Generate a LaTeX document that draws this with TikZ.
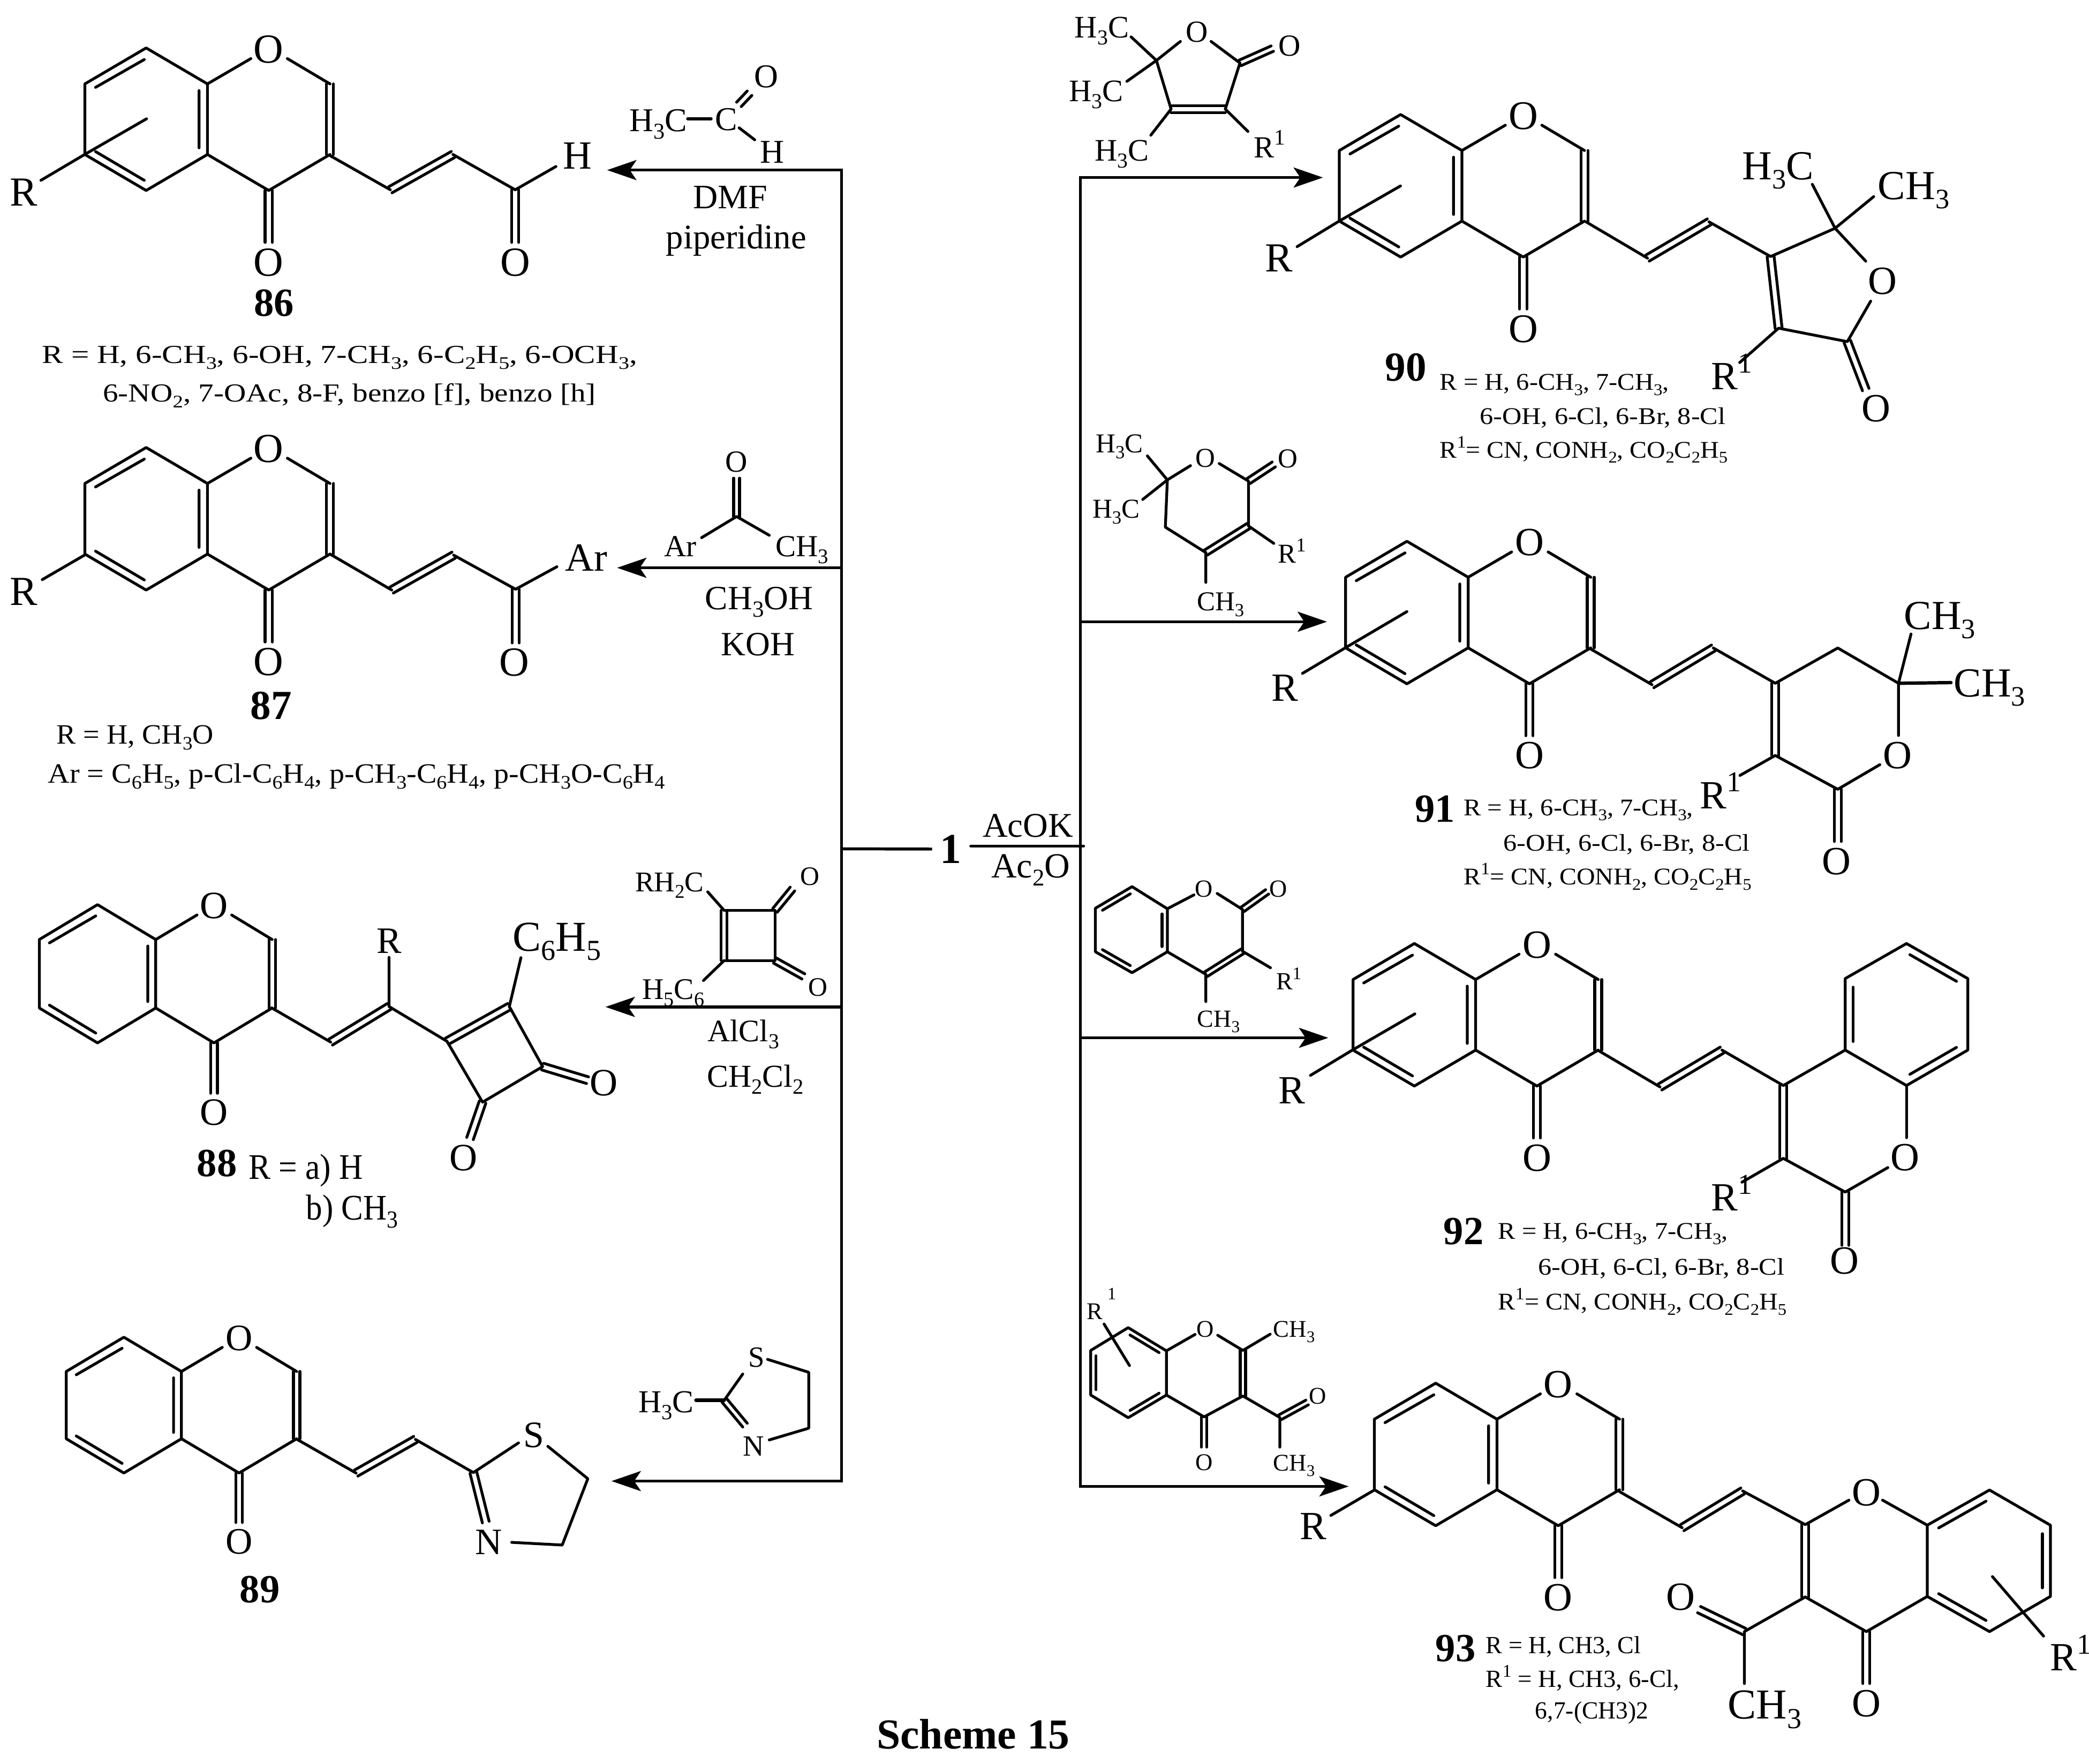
\documentclass[tikz,border=0pt]{standalone}
\usepackage{fontspec}
\usepackage{graphicx}
\setmainfont{Liberation Serif}
\usetikzlibrary{calc,arrows.meta}
\newcounter{tn}
\tikzset{
  bond/.style={line width=2.1pt,line cap=round,line join=round,black},
  rxnline/.style={line width=2.2pt,line join=miter,black},
  rxnarrow/.style={rxnline,-{Stealth[length=22pt,width=15pt,inset=5pt]}},
  lab/.style={inner sep=0pt,outer sep=0pt,anchor=center,black},
  labw/.style={inner sep=0pt,outer sep=0pt,anchor=west,black}
}
\newcommand\dn[1]{\smash{\raisebox{-.22em}{\scalebox{.68}{#1}}}}
\newcommand\up[1]{\smash{\raisebox{.42em}{\scalebox{.72}{#1}}}}
% centred text: position, size, text
\newcommand\Lab[3]{\stepcounter{tn}\node[lab,font=\fontsize{#2}{#2}\selectfont] (t\arabic{tn}) at (#1) {#3};}
% left-anchored text fitted to a width: position, width, size, text
\newcommand\FitL[4]{\stepcounter{tn}\node[labw,font=\fontsize{#3}{#3}\selectfont] (t\arabic{tn}) at (#1) {\resizebox{#2pt}{\height}{#4}};}
% R with superscript 1; x of the R centre, y, size
\newcommand\RS[3]{\stepcounter{tn}\node[labw,font=\fontsize{#3}{#3}\selectfont] (t\arabic{tn}) at ($(#1,#2)+(-.333*#3,0)$) {R\up{1}};}
% symmetric double bond
\newcommand\dbl[3][2.6pt]{\draw[bond] ($(#2)!#1!90:(#3)$) -- ($(#3)!#1!-90:(#2)$); \draw[bond] ($(#2)!#1!-90:(#3)$) -- ($(#3)!#1!90:(#2)$);}
% inner line of a ring double bond, on the left of the direction A to B
\newcommand\inn[3][6pt]{\draw[bond] ($(#2)!.12!(#3)!#1!90:(#3)$) -- ($(#3)!.12!(#2)!#1!-90:(#2)$);}
% chromone core: C8a x, y, x scale, y scale, label size
\newcommand\chromone[5]{%
\begin{scope}[shift={(#1,#2)},xscale=#3,yscale=#4]
\draw[bond] (0,0)--(0,53)--(-46,80)--(-92,53)--(-92,0)--(-46,-27)--cycle;
\draw[bond] (0,53)--(46,80)--(92,53);
\draw[bond] (89.4,0)--(89.4,53) (94.6,0)--(94.6,53);
\draw[bond] (0,0)--(32.6,-19) (60,-19)--(92,0);
\draw[bond] (-6.3,5)--(-6.3,48) (-84,2.6)--(-47.4,-18.3) (-84,50.8)--(-47.4,72.4);
\draw[bond] (43.3,80)--(43.3,119) (48.7,80)--(48.7,119);
\Lab{46,-26}{#5}{O}
\Lab{46,134}{#5}{O}
\end{scope}}
\begin{document}
\begin{tikzpicture}[x=1pt,y=-1pt]
\useasboundingbox (0,0) rectangle (1568,1324.4);
% ===== central scheme connectors
\node[lab,font=\fontsize{32}{32}\selectfont] (one) at (713.6,637.5) {\bfseries 1};
\coordinate (jLt) at (631.7,127.7);
\coordinate (jLm) at (631.7,637.3);
\coordinate (jLb) at (631.7,1112);
\coordinate (j87) at (631.7,426.3);
\coordinate (j88) at (631.7,756);
\coordinate (tip86) at (455.7,127.7);
\coordinate (tip87) at (463.2,426.3);
\coordinate (tip88) at (454.5,756);
\coordinate (tip89) at (459,1112);
\coordinate (jRt) at (811,133.3);
\coordinate (jRm) at (811,635.3);
\coordinate (jRb) at (811,1116);
\coordinate (j91) at (811,466.8);
\coordinate (j92) at (811,779.2);
\coordinate (acs) at (728.7,635.3);
\coordinate (ace) at (813.3,635.3);
\coordinate (tip90) at (993,133.3);
\coordinate (tip91) at (996,466.8);
\coordinate (tip92) at (997,779.2);
\coordinate (tip93) at (1012.3,1116);
\draw[rxnarrow] (jLm)--(jLt)--(tip86);
\draw[rxnarrow] (jLm)--(jLb)--(tip89);
\draw[rxnarrow] (j87)--(tip87);
\draw[rxnarrow] (j88)--(tip88);
\draw[rxnline,shorten >=6pt] (jLm)--(one.west);
\draw[rxnline,line width=2.3pt,line cap=round] (acs)--(ace);
\draw[rxnarrow] (jRm)--(jRt)--(tip90);
\draw[rxnarrow] (jRm)--(jRb)--(tip93);
\draw[rxnarrow] (j91)--(tip91);
\draw[rxnarrow] (j92)--(tip92);
\Lab{771.6,620}{26}{AcOK}
\Lab{773.6,650.5}{26.5}{Ac\dn{2}O}
\Lab{730.5,1302}{32}{\bfseries Scheme 15}
% ===== 86
\chromone{155.7}{63}{1}{1}{31}
\draw[bond] (63,116.3)--(30.7,135.4) (63,116.3)--(110,89.2);
\Lab{17.7,144.2}{31}{R}
\draw[bond] (248,117)--(293,142.5);
\dbl{293,142.5}{340,116}
\draw[bond] (340,116)--(386.7,142.5)--(417.3,125);
\dbl{386.7,142.5}{386.7,182}
\Lab{433.3,116.9}{30}{H}
\Lab{386.7,197}{31}{O}
\Lab{205.7,227.7}{30}{\bfseries 86}
\FitL{31.7,267.7}{446.6}{19.5}{R = H, 6-CH\dn{3}, 6-OH, 7-CH\dn{3}, 6-C\dn{2}H\dn{5}, 6-OCH\dn{3},}
\FitL{77.3,296.4}{370}{19.5}{6-NO\dn{2}, 7-OAc, 8-F, benzo [f], benzo [h]}
% reagent 86
\Lab{494.2,90.6}{25}{H\dn{3}C}
\Lab{545,89.7}{25}{C}
\Lab{575,57.4}{25}{O}
\Lab{579.7,114.3}{25}{H}
\draw[bond,line width=2.6pt] (516.3,89.2)--(533.6,89.2);
\dbl[2.4pt]{554.6,78.4}{562.6,70}
\draw[bond] (554.8,96)--(566.5,105);
\Lab{548,148}{25.7}{DMF}
\Lab{552.6,180.3}{26}{piperidine}
% ===== 87
\chromone{155.7}{363}{1}{1}{31}
\draw[bond] (63.4,416.8)--(31.7,435.2);
\Lab{17.8,444.2}{31}{R}
\draw[bond] (247.7,416)--(294,443);
\dbl{294,443}{340.5,416.8}
\draw[bond] (340.5,416.8)--(387,442.4)--(418,425.5);
\dbl{387,442.4}{387,482.7}
\Lab{440,418.6}{30}{Ar}
\Lab{386,497.5}{31}{O}
\Lab{203.5,530}{31}{\bfseries 87}
\FitL{42.3,553}{118}{21}{R = H, CH\dn{3}O}
\FitL{36,582.6}{463}{21}{Ar = C\dn{6}H\dn{5}, p-Cl-C\dn{6}H\dn{4}, p-CH\dn{3}-C\dn{6}H\dn{4}, p-CH\dn{3}O-C\dn{6}H\dn{4}}
% reagent 87
\Lab{552.9,346.8}{23}{O}
\dbl[2.2pt]{552.9,387.8}{552.9,359}
\draw[bond] (526.6,403.7)--(552.9,387.8)--(577.4,401.9);
\Lab{510.6,410.4}{23}{Ar}
\Lab{602,410.4}{23}{CH\dn{3}}
\Lab{569.8,449.3}{25.5}{CH\dn{3}OH}
\Lab{569,484}{25.5}{KOH}
% ===== 88
\chromone{116.9}{705.4}{.95}{.97}{29}
\draw[bond] (203.9,756.7)--(248.2,782.4);
\dbl{248.2,782.4}{292,755.7}
\draw[bond] (292,755.7)--(292,718.8) (292,755.7)--(335.5,781.8);
\dbl{335.5,781.8}{382.3,755.7}
\draw[bond] (382.3,755.7)--(407.3,800.8)--(362.2,827.5)--(335.5,781.8);
\draw[bond] (382.3,755.7)--(391,719);
\dbl{407.3,800.8}{441,811}
\dbl{362.2,827.5}{352.8,854.8}
\Lab{292,706.5}{28}{R}
\Lab{418,703.5}{32}{C\dn{6}H\dn{5}}
\Lab{453.3,813.1}{29}{O}
\Lab{347.9,869.5}{29}{O}
\Lab{162.8,873.6}{30}{\bfseries 88}
\FitL{186.6,878.8}{86}{27}{R = a) H}
\FitL{229.7,909.5}{69}{27}{b) CH\dn{3}}
% reagent 88
\Lab{502.5,662.4}{21.5}{RH\dn{2}C}
\draw[bond] (531.2,669.6)--(543.5,683.5);
\draw[bond] (543.5,683.5)--(581.7,683.5)--(581.7,721.2)--(543.5,721.2);
\dbl[2.2pt]{543.5,683.5}{543.5,721.2}
\draw[bond] (543.5,721.2)--(528,736.2);
\dbl[2.2pt]{581.7,683.5}{594.8,667.5}
\dbl[2.2pt]{581.7,721.2}{603,733.1}
\Lab{608,657.9}{20}{O}
\Lab{614,741.3}{20}{O}
\Lab{505.4,743}{22.5}{H\dn{5}C\dn{6}}
\Lab{558,774}{23.5}{AlCl\dn{3}}
\Lab{567,808}{24}{CH\dn{2}Cl\dn{2}}
% ===== 89
\chromone{136.2}{1029.7}{.94}{.953}{28}
\draw[bond] (223,1080.7)--(267.3,1106);
\dbl{267.3,1106}{311.8,1080.7}
\draw[bond] (311.8,1080.7)--(355.3,1105.6)--(389.2,1083.3);
\draw[bond] (411.2,1085.9)--(441.2,1110.2)--(422,1160)--(384.1,1158);
\dbl{355.3,1105.6}{364.6,1142.8}
\Lab{400.6,1077.4}{28}{S}
\Lab{367,1158}{28}{N}
\Lab{195,1193.5}{30}{\bfseries 89}
% reagent 89
\Lab{567.7,1019.2}{22}{S}
\Lab{565.6,1085.9}{22}{N}
\Lab{500,1052.6}{24}{H\dn{3}C}
\draw[bond] (543.6,1051.3)--(557.5,1031.6);
\draw[bond] (576.1,1020.6)--(607,1030.3)--(607,1072.3)--(577.4,1081.1);
\dbl[2.2pt]{543.6,1051.3}{559.2,1070}
\draw[bond,line width=2.6pt] (522.4,1051.3)--(543.6,1051.3);
% ===== 90
\chromone{1097.3}{113}{1}{1}{30.5}
\draw[bond] (1005,166.1)--(973.6,185.2) (1005,166.1)--(1051.2,139.6);
\Lab{959.8,193.8}{31}{R}
\draw[bond] (1190.5,166.6)--(1236.6,193.8);
\dbl{1236.6,193.8}{1282.8,166.6}
\draw[bond] (1282.8,166.6)--(1329,192.6)--(1377.4,171.4)--(1400.4,196.1);
\draw[bond] (1360.3,138.4)--(1377.4,171.4)--(1406.4,147.6);
\dbl{1329,192.6}{1335,246.4}
\draw[bond] (1404.1,226.1)--(1386.6,256.5)--(1335,246.4)--(1305.8,272.2);
\dbl{1386.6,256.5}{1400.4,292.5}
\Lab{1334.5,124.6}{31}{H\dn{3}C}
\Lab{1436.4,139.6}{31}{CH\dn{3}}
\Lab{1412.9,211}{30}{O}
\Lab{1408.3,306.8}{30}{O}
\RS{1294.3}{282.6}{30}
\Lab{1055.3,275.7}{31}{\bfseries 90}
\FitL{1080.7,288.4}{172}{18}{R = H, 6-CH\dn{3}, 7-CH\dn{3},}
\FitL{1110.7,313.8}{184.5}{18}{6-OH, 6-Cl, 6-Br, 8-Cl}
\FitL{1080.7,339.1}{216}{18}{R\up{1}= CN, CONH\dn{2}, CO\dn{2}C\dn{2}H\dn{5}}
% reagent 90
\draw[bond] (849,27.7)--(868,45.4)--(845.8,61.1);
\draw[bond] (868,45.4)--(886,31.1) (909,31.1)--(930.7,47.3);
\draw[bond] (868,45.4)--(879,81.9) (930.7,47.3)--(919.7,81.9);
\dbl{879,81.9}{919.7,81.9}
\draw[bond] (879,81.9)--(863.8,101.5) (919.7,81.9)--(936.7,98.7);
\dbl[2.2pt]{930.7,47.3}{955,36.5}
\Lab{827,20.8}{23.5}{H\dn{3}C}
\Lab{822.8,68.5}{23.5}{H\dn{3}C}
\Lab{842,113}{23.5}{H\dn{3}C}
\Lab{898.4,24.2}{23}{O}
\Lab{968.1,34.6}{23}{O}
\RS{948.7}{110.7}{23}
% ===== 91
\chromone{1102}{433.4}{1}{1}{30}
\draw[bond] (1009.6,486.5)--(977.6,505.6) (1009.6,486.5)--(1056,459.2);
\Lab{964.6,516.4}{30}{R}
\draw[bond] (1193.5,487)--(1240,514.1);
\dbl{1240,514.1}{1286,486.5}
\draw[bond] (1286,486.5)--(1332.5,513)--(1379.4,486.5)--(1425,513)--(1425,552.2);
\draw[bond] (1425,513)--(1434.4,476);
\draw[bond,line width=2.5pt] (1425,513)--(1464.4,512.5);
\dbl{1332.5,513}{1332.5,567.2}
\draw[bond] (1411,574.1)--(1379.4,592.6)--(1332.5,567.2)--(1306,582.2);
\dbl{1379.4,592.6}{1379.4,631.8}
\Lab{1456,462.2}{31}{CH\dn{3}}
\Lab{1493.4,513}{31}{CH\dn{3}}
\Lab{1424.4,567.2}{30}{O}
\Lab{1378.5,646.8}{30}{O}
\RS{1286}{597.2}{30}
\Lab{1077,607.6}{30}{\bfseries 91}
\FitL{1098.6,607.6}{172.4}{18}{R = H, 6-CH\dn{3}, 7-CH\dn{3},}
\FitL{1128.5,634}{185}{18}{6-OH, 6-Cl, 6-Br, 8-Cl}
\FitL{1098.6,659.5}{216}{18}{R\up{1}= CN, CONH\dn{2}, CO\dn{2}C\dn{2}H\dn{5}}
% reagent 91
\draw[bond] (861.2,342.3)--(876.2,360.3)--(857.7,375);
\draw[bond] (876.2,360.3)--(893.6,349.6) (915.1,348)--(937.1,361.2)--(937.1,394.9);
\draw[bond] (876.2,360.3)--(874.7,395.8)--(905.1,414.9);
\dbl[2.2pt]{905.1,414.9}{937.1,394.9}
\draw[bond] (937.1,394.9)--(956.1,408) (905.1,414.9)--(905.1,437.3);
\dbl[2.2pt]{937.1,361.2}{956.1,348.7}
\Lab{840.2,333}{20.5}{H\dn{3}C}
\Lab{837.7,382}{20.5}{H\dn{3}C}
\Lab{904.6,344.1}{20.5}{O}
\Lab{966.6,344.6}{20.5}{O}
\RS{966}{416}{20.5}
\Lab{916.1,451.8}{20.5}{CH\dn{3}}
% ===== 92
\chromone{1107.6}{735.4}{1}{1}{30}
\draw[bond] (1015.1,788.4)--(983.6,807.4) (1015.1,788.4)--(1062,761.2);
\Lab{969.6,818.9}{30}{R}
\draw[bond] (1200,788.9)--(1246,816.1);
\dbl{1246,816.1}{1292.5,788.4}
\draw[bond] (1292.5,788.4)--(1338.5,815)--(1385,788.4)--(1431,815)--(1477,788.4)--(1477,734.7)--(1431,708.4)--(1385,734.7)--(1385,788.4);
\inn{1385,734.7}{1385,788.4}
\inn{1431,815}{1477,788.4}
\inn{1477,734.7}{1431,708.4}
\draw[bond] (1431,815)--(1431,854.2);
\draw[bond] (1417,876.6)--(1385,895)--(1338.5,869.7)--(1307.5,887.6);
\dbl{1338.5,815}{1338.5,869.7}
\dbl{1385,895}{1385,935}
\Lab{1430,869.2}{30}{O}
\Lab{1384.4,946.5}{30}{O}
\RS{1294.5}{899.2}{30}
\Lab{1098.6,924.5}{30}{\bfseries 92}
\FitL{1124.5,925.7}{172.5}{18}{R = H, 6-CH\dn{3}, 7-CH\dn{3},}
\FitL{1154.5,952.2}{185}{18}{6-OH, 6-Cl, 6-Br, 8-Cl}
\FitL{1124.5,978.8}{216.5}{18}{R\up{1}= CN, CONH\dn{2}, CO\dn{2}C\dn{2}H\dn{5}}
% reagent 92
\draw[bond] (876.2,682.3)--(849.7,665.7)--(822.2,681.9)--(822.2,714.6)--(849.7,730.3)--(876.2,714.6)--cycle;
\inn[4pt]{876.2,714.6}{876.2,682.3}
\inn[4pt]{849.7,665.7}{822.2,681.9}
\inn[4pt]{822.2,714.6}{849.7,730.3}
\draw[bond] (876.2,682.3)--(896.1,671.9) (913.6,670.8)--(932.6,682.8)--(932.6,714.2);
\dbl[2pt]{932.6,682.8}{951.1,669.6}
\dbl[2pt]{932.6,714.2}{905.1,731.5}
\draw[bond] (876.2,714.6)--(905.1,731.5);
\draw[bond] (932.6,714.2)--(953.6,726.6) (905.1,731.5)--(905.1,752);
\Lab{903.6,667.3}{18.5}{O}
\Lab{959.6,667.3}{18.5}{O}
\RS{964}{737}{18.5}
\Lab{914.6,764.9}{18.5}{CH\dn{3}}
% ===== 93
\chromone{1123.6}{1065.5}{1}{1}{30}
\draw[bond] (1031.6,1118.7)--(998.9,1137.8);
\Lab{985.8,1145.8}{30}{R}
\draw[bond] (1215.6,1119.9)--(1262.6,1147);
\dbl{1262.6,1147}{1308,1119.4}
\draw[bond] (1308,1119.4)--(1355,1144.7)--(1387.8,1126.3);
\draw[bond] (1413,1126.3)--(1446.6,1145.1)--(1446.6,1198.6)--(1400.9,1225)--(1355,1199);
\dbl{1355,1144.7}{1355,1199}
\draw[bond] (1446.6,1145.1)--(1493.3,1118.7)--(1539,1145.1)--(1539,1198.6)--(1493.3,1225)--(1446.6,1198.6);
\inn{1493.3,1118.7}{1446.6,1145.1}
\inn{1539,1198.6}{1539,1145.1}
\inn{1446.6,1198.6}{1493.3,1225}
\draw[bond] (1355,1199)--(1309.3,1225)--(1309.3,1264);
\dbl{1309.3,1225}{1275.3,1208.5}
\dbl{1400.9,1225}{1400.9,1264}
\draw[bond] (1495.5,1183.7)--(1533.9,1228.4);
\Lab{1400.9,1120.6}{30}{O}
\Lab{1400.9,1278.9}{30}{O}
\Lab{1261.3,1199}{30}{O}
\Lab{1324.6,1280}{32}{CH\dn{3}}
\RS{1549}{1244.5}{30}
\Lab{1092.6,1237.6}{30}{\bfseries 93}
\FitL{1115.3,1236.4}{116.4}{18.5}{R = H, CH3, Cl}
\FitL{1115.3,1261.7}{145.2}{18.5}{R\up{1} = H, CH3, 6-Cl,}
\FitL{1152.3,1285.8}{85}{18.5}{6,7-(CH3)2}
% reagent 93
\draw[bond] (875.5,1014.2)--(846.8,996.8)--(818.7,1013.9)--(818.7,1047.4)--(846.8,1064.4)--(875.5,1047.4)--cycle;
\inn[4pt]{875.5,1014.2}{846.8,996.8}
\inn[4pt]{818.7,1013.9}{818.7,1047.4}
\inn[4pt]{846.8,1064.4}{875.5,1047.4}
\draw[bond] (875.5,1014.2)--(897,1001.9) (914,1002.5)--(932.9,1013.9)--(953.4,1001.7);
\dbl[2pt]{932.9,1013.9}{932.9,1048.1}
\draw[bond] (875.5,1047.4)--(903.8,1063.8)--(932.9,1048.1)--(960.6,1064.2)--(960.6,1086.5);
\dbl[2pt]{960.6,1064.2}{981.1,1053}
\dbl[2pt]{903.8,1063.8}{903.8,1086.5}
\draw[bond] (828.7,994.1)--(847.8,1025.3);
\Lab{904.6,998.1}{18}{O}
\Lab{903.8,1098.2}{18}{O}
\Lab{989,1048.4}{18}{O}
\Lab{971.3,998.1}{18}{CH\dn{3}}
\Lab{971.3,1098.6}{18}{CH\dn{3}}
\Lab{821.7,984.7}{18}{R}
\Lab{834.5,971.3}{13}{1}
\end{tikzpicture}
\end{document}
